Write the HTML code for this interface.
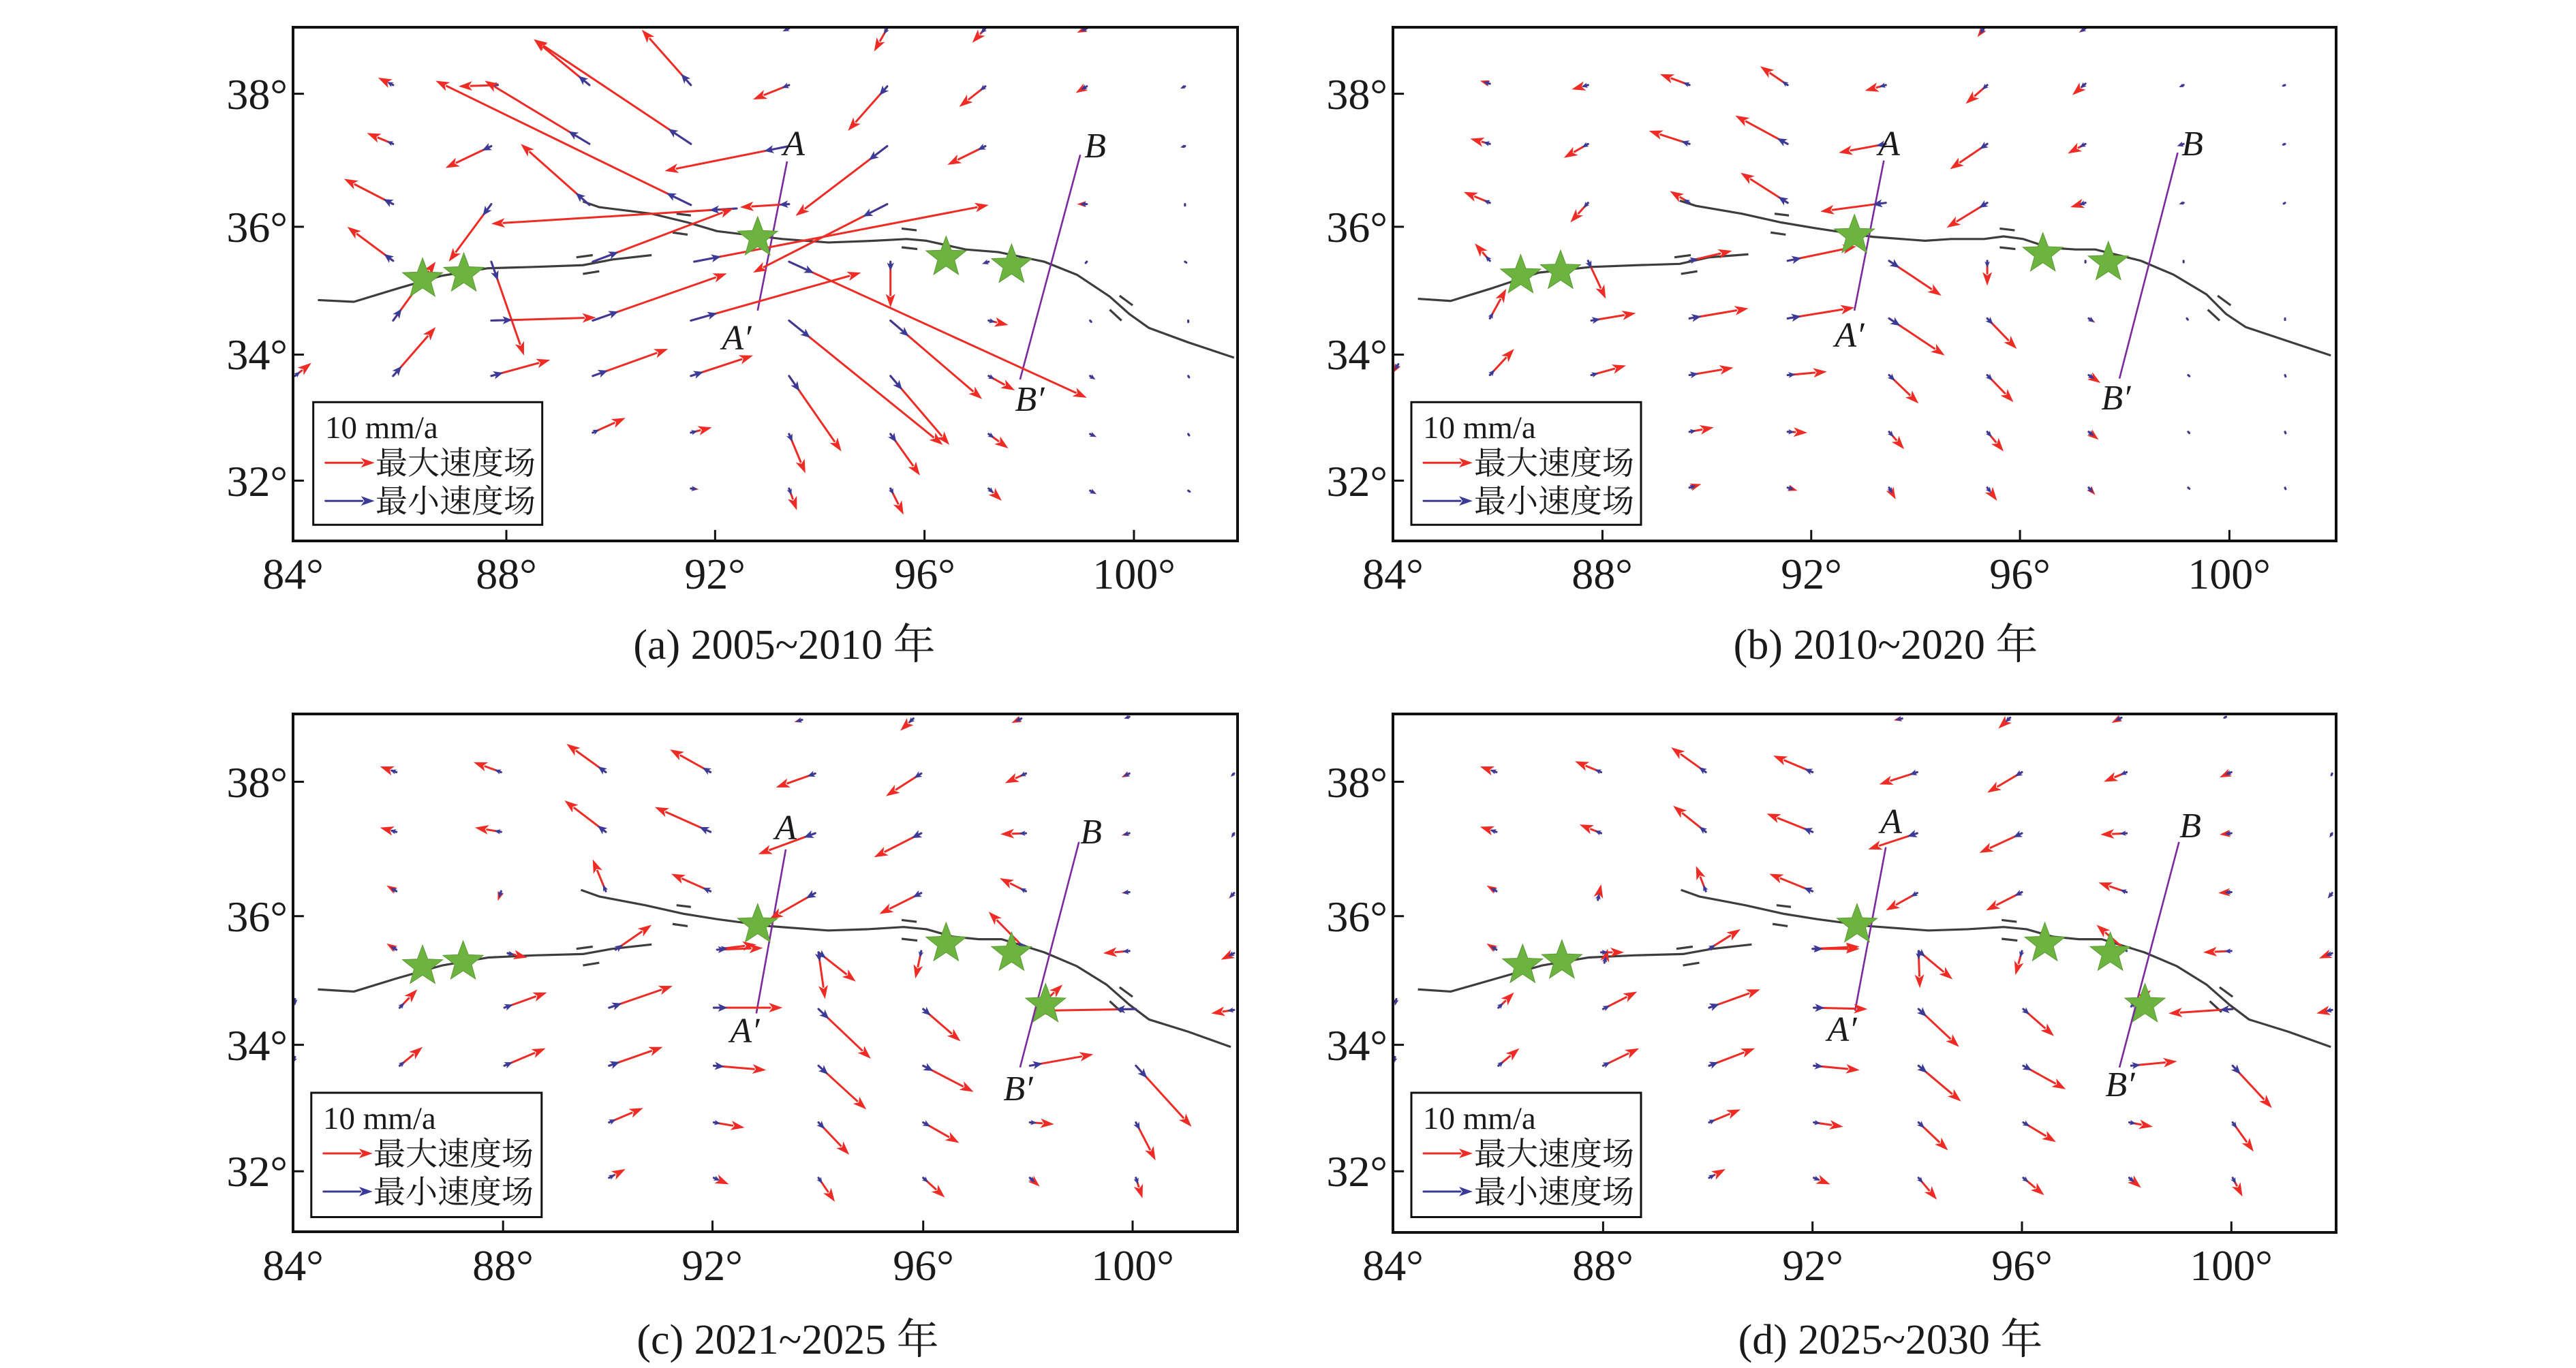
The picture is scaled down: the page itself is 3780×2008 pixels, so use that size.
<!DOCTYPE html>
<html><head><meta charset="utf-8">
<style>
html,body{margin:0;padding:0;background:#fff;}
svg{display:block;}
text{font-family:"Liberation Serif","Noto Serif CJK SC","Noto Sans CJK SC",serif;fill:#1a1a1a;}
.tk{font-size:64px;}
.cap{font-size:62px;text-anchor:middle;}
.lg{font-size:47px;}
.ab{font-size:52px;font-style:italic;text-anchor:middle;}
</style></head>
<body>
<svg id="s" xmlns="http://www.w3.org/2000/svg" width="3780" height="2008" viewBox="0 0 3780 2008" font-family="Liberation Serif, serif">
<g id="content"></g>
<g id="frames" fill="none" stroke="#111" stroke-width="4">
<rect x="430" y="40" width="1386" height="754"/>
<rect x="2044" y="40" width="1384" height="754"/>
<rect x="430" y="1048" width="1386" height="760"/>
<rect x="2044" y="1048" width="1384" height="761"/>
</g>
<g id="legends" fill="#fff" stroke="#111" stroke-width="3">
<rect x="459.7" y="590.3" width="336" height="180"/>
<rect x="2071" y="590.3" width="337" height="180"/>
<rect x="456.8" y="1604" width="338" height="182.5"/>
<rect x="2071" y="1604" width="337" height="182.5"/>
</g>
<g id="lgarrows"></g>
<text class="lg" x="477" y="643">10 mm/a</text>
<text class="lg" x="551" y="696">最大速度场</text>
<text class="lg" x="551" y="752">最小速度场</text>
<text class="lg" x="2088" y="643">10 mm/a</text>
<text class="lg" x="2163" y="696">最大速度场</text>
<text class="lg" x="2163" y="752">最小速度场</text>
<text class="lg" x="474" y="1657">10 mm/a</text>
<text class="lg" x="548" y="1710">最大速度场</text>
<text class="lg" x="548" y="1766">最小速度场</text>
<text class="lg" x="2088" y="1657">10 mm/a</text>
<text class="lg" x="2163" y="1710">最大速度场</text>
<text class="lg" x="2163" y="1766">最小速度场</text>
<text class="ab" x="1165" y="228">A</text><text class="ab" x="1081" y="513">A′</text>
<text class="ab" x="1607" y="231">B</text><text class="ab" x="1511" y="603">B′</text>
<text class="ab" x="2772" y="228">A</text><text class="ab" x="2714" y="509">A′</text>
<text class="ab" x="3217" y="228">B</text><text class="ab" x="3105" y="601">B′</text>
<text class="ab" x="1153" y="1232">A</text><text class="ab" x="1093" y="1530">A′</text>
<text class="ab" x="1601" y="1238">B</text><text class="ab" x="1494" y="1615">B′</text>
<text class="ab" x="2775" y="1223">A</text><text class="ab" x="2703" y="1528">A′</text>
<text class="ab" x="3214" y="1229">B</text><text class="ab" x="3111" y="1609">B′</text>
<g class="tk" text-anchor="middle">
<text x="430" y="864">84°</text><text x="743" y="864">88°</text><text x="1049" y="864">92°</text><text x="1357" y="864">96°</text><text x="1664" y="864">100°</text>
<text x="2044" y="864">84°</text><text x="2351" y="864">88°</text><text x="2658" y="864">92°</text><text x="2964" y="864">96°</text><text x="3271" y="864">100°</text>
<text x="430" y="1879">84°</text><text x="738" y="1879">88°</text><text x="1045" y="1879">92°</text><text x="1355" y="1879">96°</text><text x="1662" y="1879">100°</text>
<text x="2044" y="1879">84°</text><text x="2352" y="1879">88°</text><text x="2660" y="1879">92°</text><text x="2967" y="1879">96°</text><text x="3274" y="1879">100°</text>
</g>
<g class="tk" text-anchor="end">
<text x="422" y="160">38°</text><text x="422" y="355">36°</text><text x="422" y="542">34°</text><text x="422" y="728">32°</text>
<text x="2036" y="160">38°</text><text x="2036" y="355">36°</text><text x="2036" y="542">34°</text><text x="2036" y="728">32°</text>
<text x="422" y="1170">38°</text><text x="422" y="1367">36°</text><text x="422" y="1556">34°</text><text x="422" y="1741">32°</text>
<text x="2036" y="1170">38°</text><text x="2036" y="1367">36°</text><text x="2036" y="1556">34°</text><text x="2036" y="1741">32°</text>
</g>
<text class="cap" x="1151" y="967">(a) 2005~2010 年</text>
<text class="cap" x="2767" y="967">(b) 2010~2020 年</text>
<text class="cap" x="1156" y="1987">(c) 2021~2025 年</text>
<text class="cap" x="2774" y="1987">(d) 2025~2030 年</text>
</svg>
<script>
(function(){
var NS="http://www.w3.org/2000/svg";
var C=document.getElementById("content");
var LG=document.getElementById("lgarrows");
function el(n,a,p){var e=document.createElementNS(NS,n);for(var k in a)e.setAttribute(k,a[k]);(p||C).appendChild(e);return e;}
function arrow(x1,y1,x2,y2,col,w,hl,hw,p){
  var dx=x2-x1,dy=y2-y1,L=Math.sqrt(dx*dx+dy*dy);if(L<0.5)return;
  var ux=dx/L,uy=dy/L;var h=Math.min(hl,L*0.9);
  var bx=x2-ux*h,by=y2-uy*h;
  el("line",{x1:x1,y1:y1,x2:bx+ux*2,y2:by+uy*2,stroke:col,"stroke-width":w,"stroke-linecap":"round"},p);
  var hwid=hw*(h/hl);
  el("polygon",{points:x2+","+y2+" "+(bx-uy*hwid)+","+(by+ux*hwid)+" "+(bx+ux*h*0.25)+","+(by+uy*h*0.25)+" "+(bx+uy*hwid)+","+(by-ux*hwid),fill:col},p);
}
var RED="#ee2b24",BLUE="#3c3a97";
var P=[
 {cx:380,cy:0,
  ar:[[660,195,585,68],[505,195,420,90],[660,330,420,90],[205,195,182,178],[365,195,305,198],[505,330,345,185],[660,470,270,185],[810,195,755,228],[960,65,940,118],[960,198,900,300],[1110,65,1090,98],[1110,198,1070,245],[1265,65,1250,75],[1265,198,1248,213],[1415,198,1408,203],
  [205,330,165,305],[355,335,285,385],[505,470,400,330],[810,335,620,392],[960,335,820,495],[1110,335,1052,378],[1415,335,1408,338],
  [205,468,130,410],[355,468,290,600],[810,468,735,475],[730,478,355,513],[960,468,755,625],[1265,468,1250,468],
  [205,598,135,520],[355,600,405,815],[810,600,1265,912],[965,600,965,705],[1115,600,1105,605],[1265,600,1262,605],
  [510,600,725,478],[665,600,1115,470],[660,735,920,625],[510,735,715,627],[355,735,515,728],[205,735,270,600],
  [810,735,1045,1020],[965,735,1105,915],[1115,735,1145,745],
  [965,862,1055,1020],[810,862,890,1035],[810,995,835,1085],[965,995,1010,1090],[810,1120,822,1170],[965,1120,985,1180],[1115,862,1155,895],[1115,995,1145,1028],[1115,1120,1135,1148],
  [205,862,270,750],[355,862,445,825],[510,862,625,800],[660,862,755,815],[55,862,80,832],
  [510,992,560,958],[660,992,692,980],[660,1120,672,1122],
  [1270,862,1278,870],[1270,995,1280,1002],[1270,1125,1280,1133],[1420,862,1422,867],[1420,995,1422,1000],[1420,1125,1424,1129],[1420,735,1420,739],[1270,735,1273,740],[1415,468,1415,471],[1415,600,1418,603],[810,65,800,72]],
  st:[[250,640],[313,628],[762,545],[1050,590],[1150,608]],
  A:[807,370,762,712],B:[1255,355,1163,870],
  f1:[[90,688],[145,692],[215,660],[280,632],[350,615],[420,612],[495,608],[540,595],[600,585]],
  f2:[[495,462],[520,475],[600,490],[655,510],[700,530],[800,548],[870,556],[940,552],[990,548],[1020,552],[1080,572],[1130,578],[1200,600],[1250,630],[1300,680],[1330,720],[1360,752],[1420,785],[1490,820]],
  fx:0,
  xt:[378,697,1017,1337],yt:[215,520,813,1102],fl:52,fb:1240},
 {cx:1999,cy:0,
  ar:[[195,192,180,185],[345,195,320,205],[500,195,455,170],[650,195,608,152],[800,195,768,208],[955,195,922,238],[1105,192,1085,218],[1255,195,1248,200],[1410,195,1405,198],
  [195,330,165,318],[345,330,308,362],[500,330,438,300],[650,330,570,265],[800,330,728,350],[955,330,898,388],[1105,330,1078,352],[1255,330,1245,335],[1410,330,1405,333],
  [195,465,155,440],[345,465,318,510],[500,465,470,438],[650,465,578,396],[800,465,700,485],[955,465,893,522],[1105,465,1082,475],[1255,465,1248,468],[1410,465,1408,467],
  [195,598,172,558],[345,598,372,685],[500,598,565,575],[650,598,755,565],[805,598,885,678],[955,598,955,655],[1105,598,1105,604],[1255,598,1255,601],
  [195,730,220,662],[350,735,418,718],[500,730,590,707],[650,730,752,705],[805,730,890,815],[955,730,1000,800],[1110,730,1120,740],[1260,730,1262,734],
  [195,860,232,800],[350,860,403,838],[500,860,567,843],[650,860,710,852],[805,860,850,925],[955,860,995,922],[1110,860,1128,878],[1262,860,1265,864],
  [500,990,537,980],[650,990,680,992],[805,990,828,1030],[955,990,980,1035],[1110,990,1125,1008],[1262,990,1265,995],
  [500,1118,518,1110],[650,1118,665,1125],[805,1118,815,1145],[955,1118,970,1148],[1110,1118,1120,1135],[1262,1118,1265,1122],
  [950,65,940,85],[1105,65,1095,75],[55,835,47,855],[1410,860,1411,864],[1410,990,1411,994],[1410,1118,1411,1122],[1410,730,1410,734]],
  st:[[242,632],[303,622],[752,540],[1040,582],[1140,602]],
  A:[797,368,752,712],B:[1246,350,1157,868],
  f1:[[85,685],[135,690],[200,660],[270,625],[350,612],[420,608],[485,605],[530,590],[590,583]],
  f2:[[485,460],[510,472],[580,490],[640,510],[700,525],[780,543],[860,552],[900,548],[950,548],[980,542],[1010,548],[1050,568],[1090,572],[1120,572],[1190,598],[1240,630],[1290,675],[1320,720],[1350,750],[1410,780],[1480,815]],
  fx:-8,
  xt:[367,686,1005,1325],yt:[215,520,813,1102],fl:47,fb:1240},
 {cx:380,cy:1015,
  ar:[[210,185,185,172],[370,185,328,162],[530,185,470,120],[690,185,628,133],[850,188,790,220],[1012,188,958,240],[1172,188,1140,210],[1330,188,1318,197],[1490,188,1485,195],
  [210,322,185,312],[370,322,330,312],[530,322,467,250],[690,322,605,265],[850,325,763,373],[1012,325,940,380],[1172,325,1133,327],[1330,325,1318,330],[1490,325,1486,335],
  [210,458,195,445],[370,458,365,480],[530,458,510,385],[690,458,630,418],[850,462,780,522],[1012,462,948,510],[1172,458,1132,428],[1330,460,1318,462],[1490,462,1482,475],
  [210,592,195,578],[380,600,410,610],[545,592,600,535],[700,592,770,588],[705,590,760,580],[855,598,912,665],[855,598,865,705],[1012,595,1003,658],[1172,592,1115,505],[1330,595,1290,600],[1490,600,1470,615],
  [215,725,242,683],[375,725,440,690],[535,725,632,675],[695,725,800,725],[855,728,935,842],[1015,728,1072,802],[1340,728,1185,732],[1190,725,1228,672],[1490,730,1455,738],
  [215,858,250,815],[375,858,438,818],[535,858,617,815],[695,858,775,868],[855,858,928,958],[1015,858,1092,918],[1178,858,1275,832],[1340,858,1425,998],
  [535,988,587,955],[695,988,742,1000],[855,988,902,1062],[1015,988,1070,1035],[1178,988,1215,992],[1340,988,1370,1075],
  [535,1115,560,1095],[695,1115,718,1130],[855,1115,880,1170],[1015,1115,1048,1160],[1178,1115,1193,1135],[1340,1115,1350,1162],
  [830,65,818,70],[1000,62,980,90],[1165,62,1150,72],[1330,58,1322,62],[55,705,55,720],[55,838,50,855]],
  st:[[250,630],[312,620],[762,535],[1050,578],[1150,600],[1202,718]],
  A:[805,362,760,738],B:[1253,345,1163,862],
  f1:[[90,683],[145,688],[210,658],[280,628],[350,610],[420,605],[495,602],[540,590],[600,580]],
  f2:[[492,455],[520,470],[590,490],[650,510],[700,522],[780,538],[870,548],[930,545],[985,540],[1020,545],[1060,562],[1100,568],[1135,568],[1200,598],[1250,630],[1295,672],[1330,718],[1360,752],[1420,780],[1485,815]],
  fx:0,
  xt:[373,693,1015,1335],yt:[207,515,810,1100],fl:52,fb:1238},
 {cx:1999,cy:1015,
  ar:[[205,185,180,172],[365,185,325,160],[525,185,472,128],[688,185,628,147],[848,185,790,213],[1008,185,955,232],[1168,185,1133,207],[1328,185,1310,197],[1482,188,1480,195],
  [205,322,180,310],[365,325,332,305],[525,322,475,262],[688,322,618,280],[848,325,773,362],[1008,325,943,370],[1168,325,1128,328],[1328,325,1310,328],[1482,325,1478,335],
  [205,458,190,445],[360,478,365,442],[525,458,510,400],[688,458,622,418],[848,462,800,502],[1008,460,953,502],[1168,460,1125,438],[1328,460,1308,462],[1482,462,1475,475],
  [205,592,190,578],[370,622,375,590],[365,598,400,598],[530,590,578,545],[688,590,760,585],[690,590,760,590],[850,595,902,660],[850,598,852,680],[1008,595,998,650],[1168,595,1122,535],[1328,595,1285,598],[1482,600,1462,612],
  [208,725,232,690],[368,728,420,688],[530,725,608,683],[690,725,772,728],[850,728,912,815],[1010,728,1057,790],[1330,728,1232,738],[1175,722,1205,685],[1482,730,1458,738],
  [208,858,240,818],[368,858,423,818],[530,858,600,818],[690,858,760,868],[850,858,915,940],[1010,858,1075,912],[1175,858,1245,848],[1330,858,1390,955],
  [530,988,578,958],[690,988,735,998],[850,988,895,1052],[1010,988,1060,1033],[1172,988,1208,998],[1330,988,1362,1055],
  [530,1115,555,1095],[690,1115,715,1130],[850,1115,878,1165],[1010,1115,1042,1155],[1172,1115,1190,1138],[1330,1115,1345,1158],
  [825,62,812,66],[990,60,972,85],[1160,60,1145,72],[1320,58,1315,62],[52,705,50,720],[50,838,47,855]],
  st:[[245,628],[305,618],[756,535],[1043,578],[1143,600],[1196,718]],
  A:[800,357,753,732],B:[1248,345,1157,862],
  f1:[[85,683],[135,688],[205,658],[275,628],[345,610],[415,605],[490,602],[535,590],[595,580]],
  f2:[[487,455],[515,470],[585,490],[645,510],[695,522],[775,538],[865,548],[925,545],[980,540],[1015,545],[1055,562],[1095,568],[1130,568],[1195,598],[1245,630],[1290,672],[1325,718],[1355,752],[1415,780],[1480,815]],
  fx:-5,
  xt:[368,688,1008,1328],yt:[207,515,810,1100],fl:47,fb:1240}
];
var SX=1500/1562,SY=1000/1562;
var dashes=[[485,590,510,585],[495,628,520,622],[638,490,660,494],[632,533,655,538],[982,524,1005,528],[982,567,1006,571],[1315,678,1335,700],[1300,710,1318,735]];
P.forEach(function(p){
  function X(z){return p.cx+z*SX;} function Y(z){return p.cy+z*SY;}
  var g=el("g",{});
  [p.f1,p.f2].forEach(function(f){
    el("polyline",{points:f.map(function(q){return X(q[0])+","+Y(q[1]);}).join(" "),fill:"none",stroke:"#3d3d3d","stroke-width":3.2,"stroke-linejoin":"round"},g);
  });
  dashes.forEach(function(d){
    el("line",{x1:X(d[0]+p.fx),y1:Y(d[1]),x2:X(d[2]+p.fx),y2:Y(d[3]),stroke:"#3d3d3d","stroke-width":3.2},g);
  });
  [p.A,p.B].forEach(function(l){
    el("line",{x1:X(l[0]),y1:Y(l[1]),x2:X(l[2]),y2:Y(l[3]),stroke:"#7b2a9e","stroke-width":2.6},g);
  });
  var yb=Y(p.fb),xl=X(p.fl);
  p.xt.forEach(function(t){el("line",{x1:X(t),y1:yb,x2:X(t),y2:yb-16,stroke:"#111","stroke-width":3},g);});
  p.yt.forEach(function(t){el("line",{x1:xl,y1:Y(t),x2:xl+16,y2:Y(t),stroke:"#111","stroke-width":3},g);});
  p.ar.forEach(function(a){
    var x1=X(a[0]),y1=Y(a[1]),x2=X(a[2]),y2=Y(a[3]);
    var dx=x2-x1,dy=y2-y1,L=Math.sqrt(dx*dx+dy*dy);
    if(L<1){L=1;}
    arrow(x1,y1,x2,y2,RED,3,20,7,g);
    var bl=Math.min(Math.max(10,L*0.2),40);
    if(bl>L)bl=L;
    arrow(x1,y1,x1+dx/L*bl,y1+dy/L*bl,BLUE,3,14,6,g);
  });
  p.st.forEach(function(s){
    var cx=X(s[0]),cy=Y(s[1]),R=31,r=13,pts=[];
    for(var i=0;i<10;i++){var ang=-Math.PI/2+i*Math.PI/5;var rr=i%2?r:R;pts.push((cx+rr*Math.cos(ang)).toFixed(1)+","+(cy+rr*Math.sin(ang)).toFixed(1));}
    el("polygon",{points:pts.join(" "),fill:"#6db33f",stroke:"#5a9a34","stroke-width":1},g);
  });
});
[[459.7,590.3],[2071,590.3],[456.8,1604],[2071,1604]].forEach(function(b){
  arrow(b[0]+18,b[1]+89,b[0]+90,b[1]+89,RED,3,20,7,LG);
  arrow(b[0]+18,b[1]+145,b[0]+90,b[1]+145,BLUE,3,20,7,LG);
});
})();
</script>
</body></html>
